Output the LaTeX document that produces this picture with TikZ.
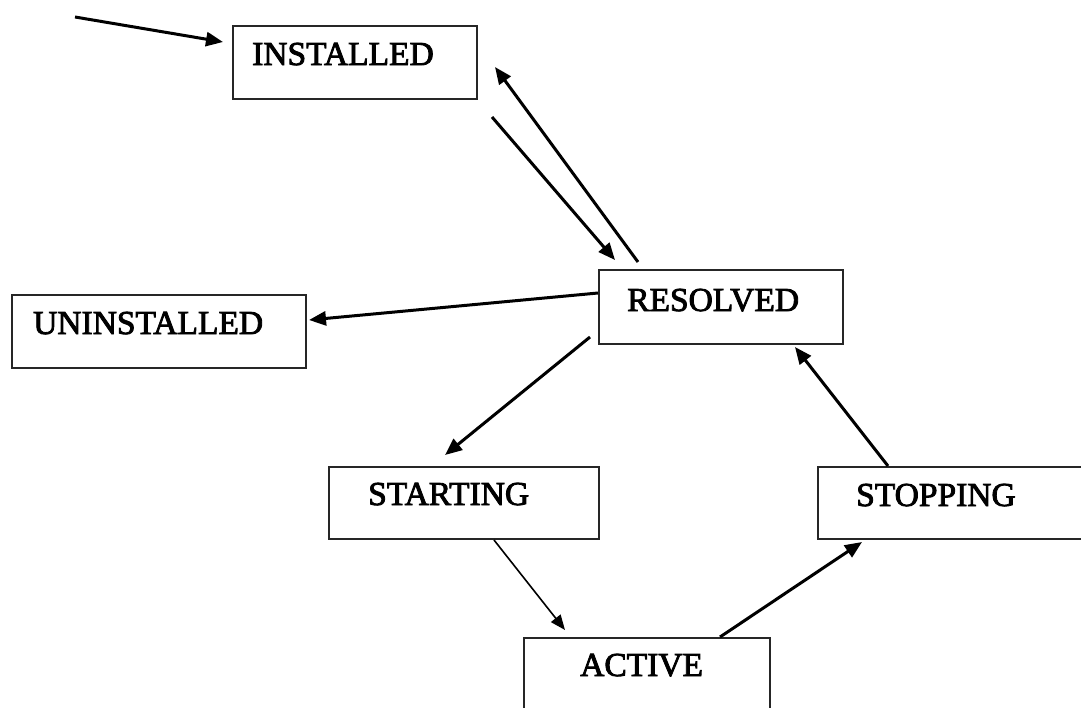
\documentclass[tikz,border=0pt]{standalone}
\usepackage{fontspec}
\setmainfont{Liberation Serif}
\newfontfamily\statefont{Liberation Serif}[FakeBold=2.5]
\usetikzlibrary{arrows.meta}

\begin{document}
\begin{tikzpicture}[
  x=1pt, y=-1pt,
  statebox/.style={draw=black!85, line width=2pt, rectangle, inner sep=0pt, anchor=north west},
  statetext/.style={anchor=base west, inner sep=0pt, font=\statefont\fontsize{33.5}{40}\selectfont},
  trans/.style={line width=3pt, -{Triangle[length=17pt, width=14pt]}},
  thintrans/.style={line width=1.6pt, -{Triangle[length=15pt, width=12pt]}}
]
\useasboundingbox (0,0) rectangle (1081,707);
\clip (0,0) rectangle (1081,707);

% state boxes
\node[statebox, minimum width=244pt, minimum height=73pt] (inst)  at (232,25)  {};
\node[statebox, minimum width=244pt, minimum height=74pt] (res)   at (598,269) {};
\node[statebox, minimum width=294pt, minimum height=73pt] (unin)  at (11,294)  {};
\node[statebox, minimum width=270pt, minimum height=72pt] (start) at (328,466) {};
\node[statebox, minimum width=290pt, minimum height=72pt] (stop)  at (817,466) {};
\node[statebox, minimum width=246pt, minimum height=90pt] (act)   at (523,637) {};

% state names
\node[statetext] (instT)  at (252,65)  {INSTALLED};
\node[statetext] (uninT)  at (33,334)  {UNINSTALLED};
\node[statetext] (resT)   at (627,311) {RESOLVED};
\node[statetext] (startT) at (368,505) {STARTING};
\node[statetext] (stopT)  at (856,506) {STOPPING};
\node[statetext] (actT)   at (580,676) {ACTIVE};

% entry point
\coordinate (entry) at (75,17);

% transitions
\draw[trans] (entry) -- ([shift={(-9,17)}]inst.north west);
\draw[trans] ([shift={(40,-7)}]res.north west) -- ([shift={(17,42)}]inst.north east);
\draw[trans] ([shift={(14,17)}]inst.south east) -- ([shift={(17,-9)}]res.north west);
\draw[trans] ([shift={(0,24)}]res.north west) -- ([shift={(2,26)}]unin.north east);
\draw[trans] ([shift={(-8,-8)}]res.south west) -- ([shift={(117,-11)}]start.north west);
\draw[thintrans] ([shift={(166,0)}]start.south west) -- ([shift={(42,-7)}]act.north west);
\draw[trans] ([shift={(197,0)}]act.north west) -- ([shift={(45,2)}]stop.south west);
\draw[trans] ([shift={(71,0)}]stop.north west) -- ([shift={(197,2)}]res.south west);
\end{tikzpicture}
\end{document}
